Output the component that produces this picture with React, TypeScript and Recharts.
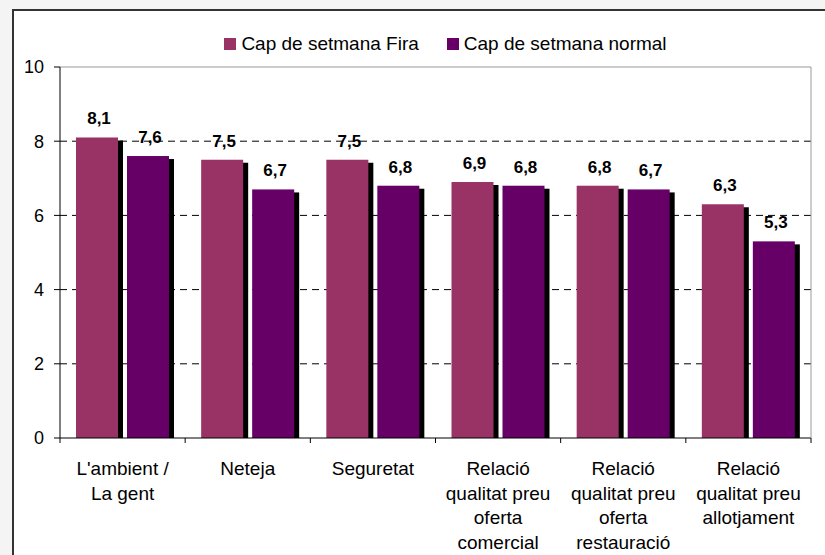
import React from "react";
import { BarChart, Bar, XAxis, YAxis, CartesianGrid, Legend, LabelList, ReferenceLine } from "recharts";

const categories = [
  "L'ambient /\nLa gent",
  "Neteja",
  "Seguretat",
  "Relació\nqualitat preu\noferta\ncomercial",
  "Relació\nqualitat preu\noferta\nrestauració",
  "Relació\nqualitat preu\nallotjament",
];
const firaValues = [8.1, 7.5, 7.5, 6.9, 6.8, 6.3];
const normalValues = [7.6, 6.7, 6.8, 6.8, 6.7, 5.3];
const yTicks = [0, 2, 4, 6, 8, 10];
const seriesNames = ["Cap de setmana Fira", "Cap de setmana normal"];
const seriesColors = ["#993366", "#660066"];

const data = categories.map((c, i) => ({ cat: c, fira: firaValues[i], normal: normalValues[i] }));

const FONT = "'Liberation Sans', Arial, sans-serif";
const W = 825;
const H = 555;
const PLOT_LEFT = 60;
const PLOT_RIGHT = 811;
const BAND = (PLOT_RIGHT - PLOT_LEFT) / categories.length;

const ShadowBar = (props: any) => {
  const { x, y, width, height, fill } = props;
  if (!height || height <= 0) return null;
  return (
    <g>
      <rect x={x + 5} y={y + 3} width={width} height={Math.max(0, height - 3)} fill="#000" />
      <rect x={x} y={y} width={width} height={height} fill={fill} />
    </g>
  );
};

const ValueLabel = (props: any) => {
  const { x, y, width, value } = props;
  return (
    <text
      x={x + width / 2 + 2}
      y={y - 13}
      textAnchor="middle"
      fontFamily={FONT}
      fontWeight="bold"
      fontSize={17}
      fill="#000"
    >
      {Number(value).toFixed(1).replace(".", ",")}
    </text>
  );
};

const XTick = (props: any) => {
  const { x, y, payload, index } = props;
  const lines = String(payload.value).split("\n");
  const half = BAND / 2;
  return (
    <g>
      <line x1={x - half} x2={x - half} y1={y} y2={y + 5} stroke="#000" />
      {index === categories.length - 1 && (
        <line x1={x + half} x2={x + half} y1={y} y2={y + 5} stroke="#000" />
      )}
      <text textAnchor="middle" fontFamily={FONT} fontSize={19} fill="#000">
        {lines.map((l, i) => (
          <tspan key={i} x={x} y={y + 37 + i * 24.5}>
            {l}
          </tspan>
        ))}
      </text>
    </g>
  );
};

const LegendContent = () => (
  <div
    style={{
      display: "flex",
      justifyContent: "center",
      alignItems: "center",
      gap: 28,
      fontFamily: FONT,
      fontSize: 19,
      lineHeight: "19px",
      color: "#000",
    }}
  >
    {seriesNames.map((n, i) => (
      <div key={n} style={{ display: "flex", alignItems: "center", height: 19 }}>
        <span style={{ display: "inline-block", width: 12, height: 12, background: seriesColors[i], marginRight: 5 }} />
        <span style={{ whiteSpace: "nowrap" }}>{n}</span>
      </div>
    ))}
  </div>
);

export default function App() {
  return (
    <div style={{ position: "absolute", left: 0, top: 0, width: W, height: H, background: "#f4f4f4", overflow: "hidden" }}>
      <div
        style={{
          position: "absolute",
          left: 12,
          top: 9,
          width: 900,
          height: 700,
          border: "2px solid #333",
          background: "#fff",
        }}
      />
      <div style={{ position: "absolute", left: 0, top: 0 }}>
        <BarChart
          width={W}
          height={H}
          data={data}
          margin={{ top: 67, right: 0, left: 0, bottom: 0 }}
          barSize={42}
          barGap={9}
        >
          <CartesianGrid
            vertical={false}
            horizontalValues={[2, 4, 6, 8]}
            stroke="#000"
            strokeDasharray="7 5"
          />
          <ReferenceLine y={10} stroke="#999" ifOverflow="extendDomain" />
          <XAxis
            dataKey="cat"
            height={117}
            interval={0}
            tickLine={false}
            tickSize={0}
            tickMargin={0}
            axisLine={{ stroke: "#000" }}
            tick={<XTick />}
          />
          <YAxis
            width={60}
            domain={[0, 10]}
            ticks={yTicks}
            interval={0}
            tickSize={6}
            tickMargin={10}
            axisLine={{ stroke: "#000" }}
            tickLine={{ stroke: "#000" }}
            tick={{ fontFamily: FONT, fontSize: 18, fill: "#000" }}
          />
          <YAxis
            yAxisId="r"
            orientation="right"
            width={14}
            domain={[0, 10]}
            tick={false}
            tickLine={false}
            axisLine={{ stroke: "#999" }}
          />
          <Legend
            verticalAlign="middle"
            align="center"
            content={<LegendContent />}
            wrapperStyle={{ position: "absolute", top: 34, left: 33, width: W, height: 19 }}
          />
          <Bar dataKey="fira" name={seriesNames[0]} fill={seriesColors[0]} shape={<ShadowBar />} isAnimationActive={false}>
            <LabelList dataKey="fira" content={<ValueLabel />} />
          </Bar>
          <Bar dataKey="normal" name={seriesNames[1]} fill={seriesColors[1]} shape={<ShadowBar />} isAnimationActive={false}>
            <LabelList dataKey="normal" content={<ValueLabel />} />
          </Bar>
        </BarChart>
      </div>
    </div>
  );
}
